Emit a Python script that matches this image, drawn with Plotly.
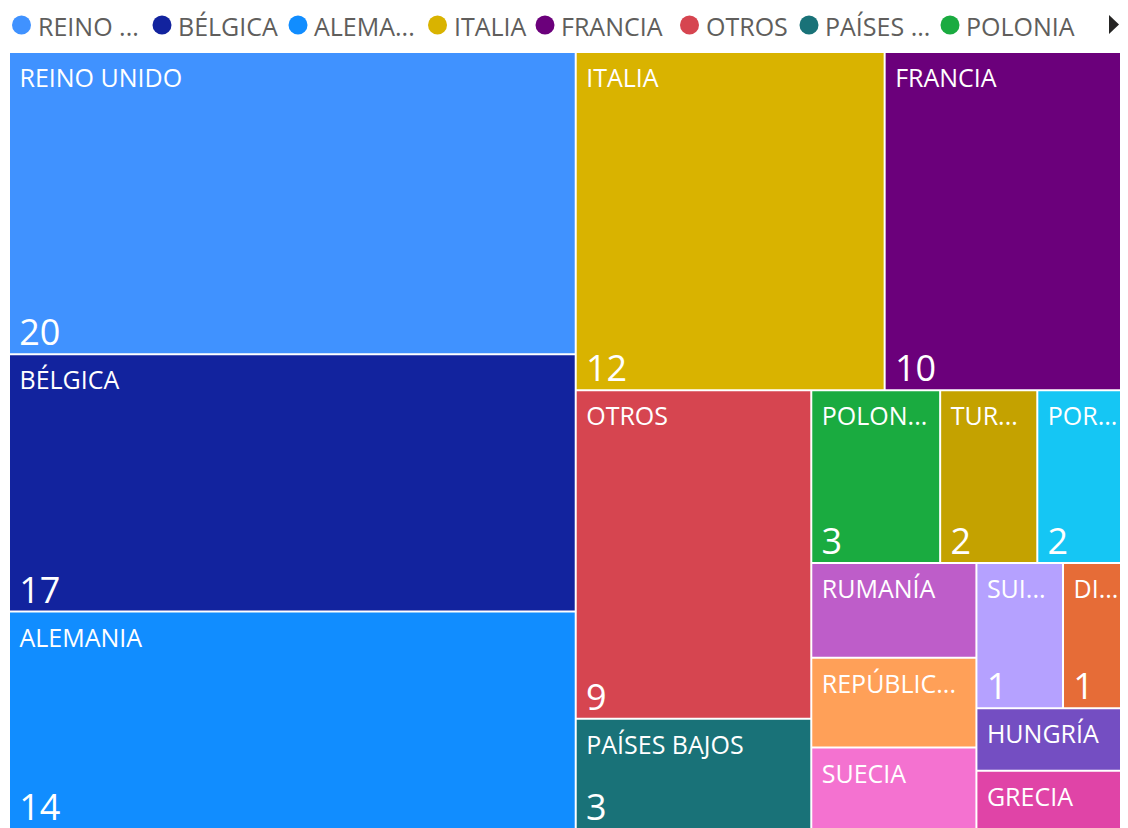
import plotly.graph_objects as go

# ---- data ----
countries = ["REINO UNIDO", "BÉLGICA", "ALEMANIA", "ITALIA", "FRANCIA", "OTROS",
             "PAÍSES BAJOS", "POLONIA", "TURQUÍA", "PORTUGAL", "RUMANÍA",
             "REPÚBLICA CHECA", "SUECIA", "SUIZA", "DINAMARCA", "HUNGRÍA", "GRECIA"]
tile_labels = ["REINO UNIDO", "BÉLGICA", "ALEMANIA", "ITALIA", "FRANCIA", "OTROS",
               "PAÍSES BAJOS", "POLON...", "TUR...", "POR...", "RUMANÍA",
               "REPÚBLIC...", "SUECIA", "SUI...", "DI...", "HUNGRÍA", "GRECIA"]
values = [20.0, 17.03, 14.39, 12.2, 9.65, 9.04, 3.03, 2.6, 1.96, 1.85, 1.83,
          1.73, 1.57, 1.47, 1.12, 1.11, 1.04]
show_value = [True, True, True, True, True, True, True, True, True, True, False,
              False, False, True, True, False, False]
colors = ["#4092FF", "#12239E", "#118DFF", "#D9B300", "#6B007B", "#D64550",
          "#197278", "#1AAB40", "#C4A200", "#15C6F4", "#BE5DC9", "#FFA058",
          "#F472D0", "#B5A1FF", "#E66C37", "#744EC2", "#E044A7"]
legend_labels = ["REINO ...", "BÉLGICA", "ALEMA...", "ITALIA", "FRANCIA", "OTROS",
                 "PAÍSES ...", "POLONIA"]

# ---- layout helpers ----
# the page body has an 8px margin, so the figure starts at page (8, 8)
OFF = 8
W, H = 1128 - OFF, 838 - OFF      # figure runs a little past the window bottom
FONT = "Open Sans"
TOP = 53 - OFF                    # top of the treemap (figure px)
BOT = 828 - OFF                   # bottom of the treemap (figure px)
LEFT = 10 - OFF                   # left of the treemap (figure px)


def ydom(shift):
    """treemap domain, moved down by `shift` px (same size, so same tiling)"""
    return [(H - BOT - shift) / H, 1 - (TOP + shift) / H]


xdom = [LEFT / W, 1]
parents = [""] * len(countries)
tiling = dict(packing="squarify", squarifyratio=1.618034, pad=2)
nopad = dict(t=0, l=0, r=0, b=0)
clear = ["rgba(0,0,0,0)"] * len(countries)

fig = go.Figure()
# coloured tiles
fig.add_trace(go.Treemap(
    labels=countries, parents=parents, values=values,
    sort=True, domain=dict(x=xdom, y=ydom(0)), tiling=tiling,
    pathbar=dict(visible=False),
    marker=dict(colors=colors, line=dict(width=0), pad=nopad, depthfade=False),
    textinfo="none",
    hovertemplate="%{label}: %{value:.0f}<extra></extra>",
))
# category names, top left
fig.add_trace(go.Treemap(
    labels=countries, parents=parents, values=values, text=tile_labels,
    sort=True, domain=dict(x=xdom, y=ydom(4)), tiling=tiling,
    pathbar=dict(visible=False),
    marker=dict(colors=clear, line=dict(width=0), pad=nopad, depthfade=False),
    texttemplate="\u00a0%{text}", textposition="top left",
    textfont=dict(family=FONT, size=25, color="white"),
    hoverinfo="skip",
))
# values, bottom left
fig.add_trace(go.Treemap(
    labels=countries, parents=parents, values=values,
    sort=True, domain=dict(x=xdom, y=ydom(6)), tiling=tiling,
    pathbar=dict(visible=False),
    marker=dict(colors=clear, line=dict(width=0), pad=nopad, depthfade=False),
    texttemplate=["<span style='font-size:24px'>\u00a0</span>%{value:.0f}" if s else "\u200b"
                  for s in show_value],
    textposition="bottom left",
    textfont=dict(family=FONT, size=36, color="white"),
    hoverinfo="skip",
))

# ---- legend (Power BI style, top row) ----
legend_circle_x = [21.5, 162, 298, 437.5, 545, 689.5, 809, 950]  # page px
shapes = []
annotations = []
LEG_Y = 25 - OFF
for cx, lab, col in zip(legend_circle_x, legend_labels, colors):
    cx -= OFF
    r = 9.5
    shapes.append(dict(type="circle", xref="paper", yref="paper",
                       x0=(cx - r) / W, x1=(cx + r) / W,
                       y0=1 - (LEG_Y + r) / H, y1=1 - (LEG_Y - r) / H,
                       fillcolor=col, line=dict(width=0)))
    annotations.append(dict(text=lab, xref="paper", yref="paper",
                            x=(cx + 14) / W, y=1 - (LEG_Y + 0.5) / H,
                            xanchor="left", yanchor="middle", showarrow=False,
                            font=dict(family=FONT, size=25, color="#605E5C")))
# scroll arrow (kept inside the visible area)
ax0, ax1 = 1109 - OFF, 1119 - OFF
shapes.append(dict(type="path", xref="paper", yref="paper",
                   path=(f"M {ax0/W},{1-(15-OFF)/H} L {ax0/W},{1-(34-OFF)/H} "
                         f"L {ax1/W},{1-(24.5-OFF)/H} Z"),
                   fillcolor="#252423", line=dict(width=0)))

fig.update_layout(
    width=W, height=H, margin=dict(l=0, r=0, t=0, b=0),
    paper_bgcolor="white", plot_bgcolor="white",
    shapes=shapes, annotations=annotations, showlegend=False,
)
fig.write_html("out.html")
